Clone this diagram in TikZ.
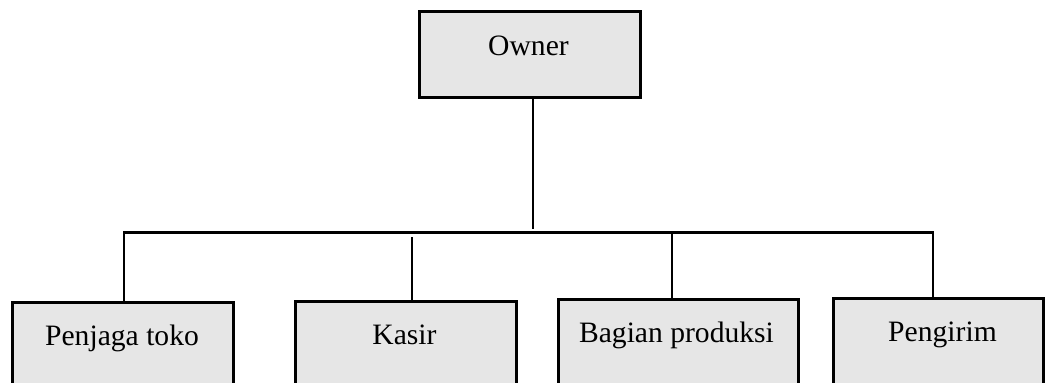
\documentclass[tikz,border=0pt]{standalone}
\usepackage{fontspec}
\setmainfont{Liberation Serif}
\begin{document}
\begin{tikzpicture}[x=1pt,y=-1pt,
  box/.style={draw=black,line width=2.5pt,fill=boxgray,inner sep=0pt,anchor=north west},
  lbl/.style={anchor=base,inner sep=0pt,font=\fontsize{29.6}{34}\selectfont},
  conn/.style={draw=black,line width=2.6pt}]
\definecolor{boxgray}{HTML}{E6E6E6}
\useasboundingbox (0,0) rectangle (1045,383);
\clip (0,0) rectangle (1045,383);
% boxes
\node[box,minimum width=221pt,minimum height=86pt] (owner) at (418,10) {};
\node[box,minimum width=221pt,minimum height=110pt] (pen) at (11,301) {};
\node[box,minimum width=221pt,minimum height=110pt] (kas) at (294,300) {};
\node[box,minimum width=240pt,minimum height=110pt] (bag) at (557,298) {};
\node[box,minimum width=210pt,minimum height=110pt] (kir) at (832,297) {};
% labels
\node[lbl] (towner) at (528.5,55) {Owner};
\node[lbl] (tpen) at (122,345) {Penjaga toko};
\node[lbl] (tkas) at (404.5,344) {Kasir};
\node[lbl] (tbag) at (676.5,342) {Bagian produksi};
\node[lbl] (tkir) at (942.5,341) {Pengirim};
% connectors
\coordinate (jo) at (533,229);
\coordinate (b1) at (124,232.5);
\coordinate (b2) at (412,237);
\coordinate (b3) at (672,232.5);
\coordinate (b4) at (933,232.5);
\draw[conn] (owner.south -| jo) -- (jo);
\draw[conn] (b1 |- pen.north) -- (b1) -- (b4) -- (b4 |- kir.north);
\draw[conn] (b2) -- (b2 |- kas.north);
\draw[conn] (b3) -- (b3 |- bag.north);
\end{tikzpicture}
\end{document}
